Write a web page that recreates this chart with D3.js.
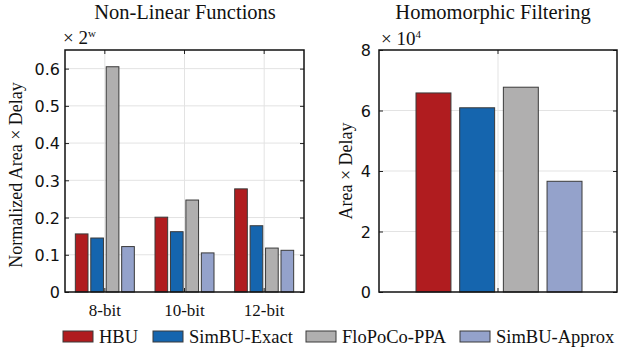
<!DOCTYPE html>
<html>
<head>
<meta charset="utf-8">
<script src="https://cdn.jsdelivr.net/npm/d3@7"></script>
<style>
  body { margin: 0; background: #fff; }
  .tick-num { font-family: "DejaVu Sans", sans-serif; font-size: 16px; fill: #111; }
  .serif { font-family: "Liberation Serif", "Times New Roman", serif; fill: #111; }
</style>
</head>
<body>
<div id="chart"></div>
<script>
// DATA
const seriesNames = ["HBU", "SimBU-Exact", "FloPoCo-PPA", "SimBU-Approx"];
const seriesColors = ["#b01c1f", "#1565ae", "#b0afaf", "#94a2cb"];

const bitWidths = ["8-bit", "10-bit", "12-bit"];
const hbuNL = [0.156, 0.201, 0.277];
const simbuExactNL = [0.145, 0.162, 0.178];
const flopocoNL = [0.605, 0.247, 0.118];
const simbuApproxNL = [0.122, 0.105, 0.112];
const nlTicks = [0, 0.1, 0.2, 0.3, 0.4, 0.5, 0.6];

const hfValues = [6.58, 6.09, 6.77, 3.66]; // x 10^4
const hfTicks = [0, 2, 4, 6, 8];

const W = 619, H = 352;

var svg = d3.select("#chart").append("svg")
  .attr("width", W)
  .attr("height", H);

// ---------- LEFT: Non-Linear Functions ----------
var L = { left: 65, right: 304, top: 50, bottom: 292 };

var xL = d3.scaleBand()
  .domain(bitWidths)
  .range([L.left, L.right])
  .padding(0);
var yL = d3.scaleLinear().domain([0, 0.65]).range([L.bottom, L.top]);
var xInner = d3.scaleBand()
  .domain(seriesNames)
  .range([-29.5, 29.5])
  .paddingInner(0.18)
  .paddingOuter(0);

var nlSeries = [hbuNL, simbuExactNL, flopocoNL, simbuApproxNL];

var gL = svg.append("g");

// grid
gL.selectAll(".hgrid").data(nlTicks.slice(1)).enter().append("line")
  .attr("x1", L.left).attr("x2", L.right)
  .attr("y1", d => yL(d)).attr("y2", d => yL(d))
  .attr("stroke", "#e3e3e3").attr("stroke-width", 1);
gL.selectAll(".vgrid").data(bitWidths).enter().append("line")
  .attr("x1", d => xL(d) + xL.bandwidth() / 2).attr("x2", d => xL(d) + xL.bandwidth() / 2)
  .attr("y1", L.top).attr("y2", L.bottom)
  .attr("stroke", "#e3e3e3").attr("stroke-width", 1);

// bars
bitWidths.forEach(function (b, i) {
  var cx = xL(b) + xL.bandwidth() / 2;
  gL.selectAll(".bar" + i)
    .data(seriesNames)
    .enter()
    .append("rect")
    .attr("x", d => cx + xInner(d))
    .attr("width", xInner.bandwidth())
    .attr("y", (d, j) => yL(nlSeries[j][i]))
    .attr("height", (d, j) => L.bottom - yL(nlSeries[j][i]))
    .attr("fill", (d, j) => seriesColors[j])
    .attr("stroke", "#3a3a3a")
    .attr("stroke-width", 1);
});

// axes
var yAxisL = d3.axisLeft(yL).tickValues(nlTicks).tickSize(-4).tickPadding(5)
  .tickFormat(d => d === 0 ? "0" : d3.format(".1f")(d));
gL.append("g").attr("transform", `translate(${L.left},0)`).call(yAxisL)
  .call(g => g.select(".domain").remove())
  .call(g => g.selectAll("text").attr("class", "tick-num").attr("dy", "0.36em"))
  .call(g => g.selectAll("line").attr("stroke", "#222"));
gL.append("g").attr("transform", `translate(${L.right},0)`)
  .call(d3.axisRight(yL).tickValues(nlTicks).tickSize(-4).tickFormat(""))
  .call(g => g.select(".domain").remove())
  .call(g => g.selectAll("line").attr("stroke", "#222"));
gL.append("g").attr("transform", `translate(0,${L.top})`)
  .call(d3.axisTop(xL).tickSize(-4).tickFormat(""))
  .call(g => g.select(".domain").remove())
  .call(g => g.selectAll("line").attr("stroke", "#222"));
gL.append("g").attr("transform", `translate(0,${L.bottom})`)
  .call(d3.axisBottom(xL).tickSize(-4).tickPadding(12))
  .call(g => g.select(".domain").remove())
  .call(g => g.selectAll("line").attr("stroke", "#222"))
  .call(g => g.selectAll("text").attr("class", "serif").style("font-size", "17px"));

gL.append("rect")
  .attr("x", L.left).attr("y", L.top)
  .attr("width", L.right - L.left).attr("height", L.bottom - L.top)
  .attr("fill", "none").attr("stroke", "#111").attr("stroke-width", 1.5);

// title + labels
gL.append("text").attr("class", "serif")
  .attr("x", 185).attr("y", 19)
  .attr("text-anchor", "middle").style("font-size", "20.5px")
  .text("Non-Linear Functions");
gL.append("text").attr("class", "serif")
  .attr("x", 63).attr("y", 44)
  .style("font-size", "19px")
  .html("× 2<tspan dy='-7' style='font-size:11px'>w</tspan>");
gL.append("text").attr("class", "serif")
  .attr("transform", `translate(22,${(L.top + L.bottom) / 2 + 4}) rotate(-90)`)
  .attr("text-anchor", "middle").style("font-size", "18px")
  .text("Normalized Area × Delay");

// ---------- RIGHT: Homomorphic Filtering ----------
var R = { left: 379, right: 617, top: 50, bottom: 292 };
var xR = d3.scaleBand().domain(seriesNames).range([416, 582]).paddingInner(0.2).paddingOuter(0);
var yR = d3.scaleLinear().domain([0, 8]).range([R.bottom, R.top]);

var gR = svg.append("g");

gR.selectAll(".hgrid").data(hfTicks.slice(1, -1)).enter().append("line")
  .attr("x1", R.left).attr("x2", R.right)
  .attr("y1", d => yR(d)).attr("y2", d => yR(d))
  .attr("stroke", "#e3e3e3");
gR.append("line")
  .attr("x1", (R.left + R.right) / 2).attr("x2", (R.left + R.right) / 2)
  .attr("y1", R.top).attr("y2", R.bottom)
  .attr("stroke", "#e3e3e3");

gR.selectAll(".bar")
  .data(seriesNames)
  .enter()
  .append("rect")
  .attr("x", d => xR(d))
  .attr("width", xR.bandwidth())
  .attr("y", (d, j) => yR(hfValues[j]))
  .attr("height", (d, j) => R.bottom - yR(hfValues[j]))
  .attr("fill", (d, j) => seriesColors[j])
  .attr("stroke", "#3a3a3a")
  .attr("stroke-width", 1);

gR.append("g").attr("transform", `translate(${R.left},0)`)
  .call(d3.axisLeft(yR).tickValues(hfTicks).tickSize(-4).tickPadding(8))
  .call(g => g.select(".domain").remove())
  .call(g => g.selectAll("text").attr("class", "tick-num").attr("dy", "0.36em"))
  .call(g => g.selectAll("line").attr("stroke", "#222"));
gR.append("g").attr("transform", `translate(${R.right},0)`)
  .call(d3.axisRight(yR).tickValues(hfTicks).tickSize(-4).tickFormat(""))
  .call(g => g.select(".domain").remove())
  .call(g => g.selectAll("line").attr("stroke", "#222"));
gR.append("line")
  .attr("x1", (R.left + R.right) / 2).attr("x2", (R.left + R.right) / 2)
  .attr("y1", R.top).attr("y2", R.top + 4).attr("stroke", "#222");
gR.append("line")
  .attr("x1", (R.left + R.right) / 2).attr("x2", (R.left + R.right) / 2)
  .attr("y1", R.bottom).attr("y2", R.bottom - 4).attr("stroke", "#222");

gR.append("rect")
  .attr("x", R.left).attr("y", R.top)
  .attr("width", R.right - R.left).attr("height", R.bottom - R.top)
  .attr("fill", "none").attr("stroke", "#111").attr("stroke-width", 1.5);

gR.append("text").attr("class", "serif")
  .attr("x", 493).attr("y", 19)
  .attr("text-anchor", "middle").style("font-size", "20.5px")
  .text("Homomorphic Filtering");
gR.append("text").attr("class", "serif")
  .attr("x", 381).attr("y", 45)
  .style("font-size", "19px")
  .html("× 10<tspan dy='-7' style='font-size:11px'>4</tspan>");
gR.append("text").attr("class", "serif")
  .attr("transform", `translate(352,${(R.top + R.bottom) / 2}) rotate(-90)`)
  .attr("text-anchor", "middle").style("font-size", "18px")
  .text("Area × Delay");

// ---------- LEGEND ----------
var legendX = [63, 153, 306, 460];
var leg = svg.append("g").selectAll(".leg").data(seriesNames).enter().append("g")
  .attr("transform", (d, i) => `translate(${legendX[i]},331)`);
leg.append("rect")
  .attr("width", 30).attr("height", 11)
  .attr("fill", (d, i) => seriesColors[i])
  .attr("stroke", "#3a3a3a").attr("stroke-width", 1);
leg.append("text").attr("class", "serif")
  .attr("x", 36).attr("y", 12)
  .style("font-size", "18.5px")
  .text(d => d);
</script>
</body>
</html>
